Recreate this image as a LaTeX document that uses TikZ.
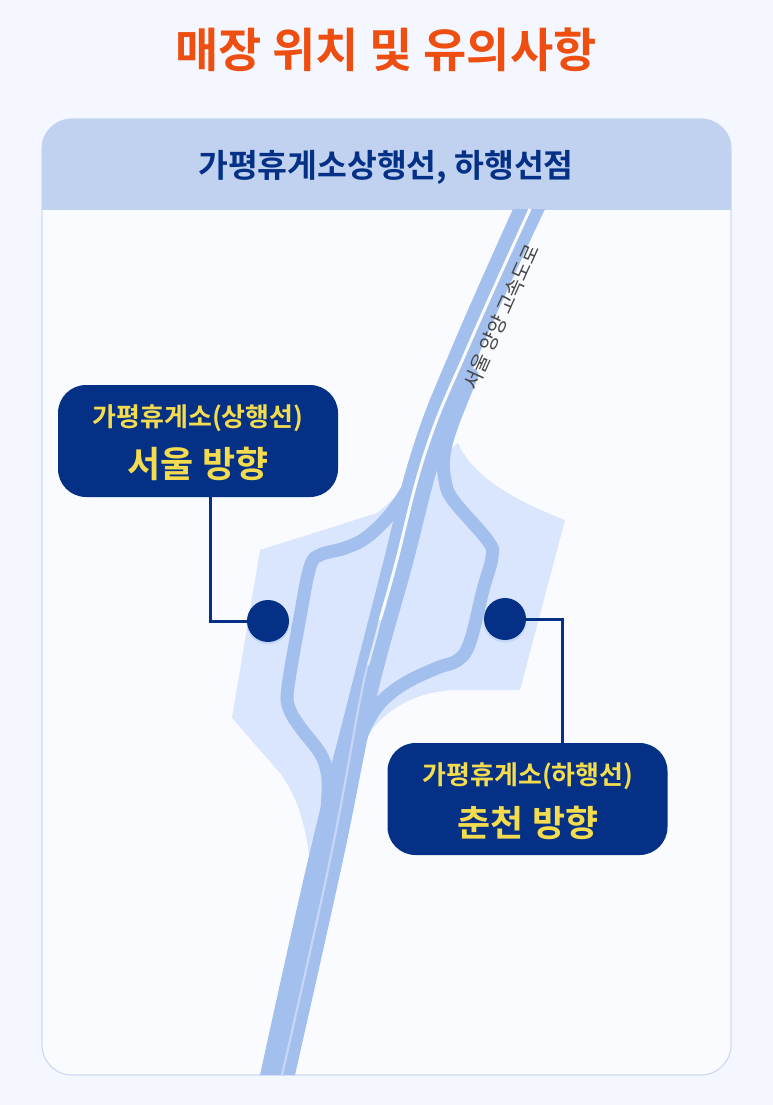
\documentclass[tikz,border=0pt]{standalone}
\usepackage{fontspec}
\setmainfont{Noto Sans CJK KR}[BoldFont={Noto Sans CJK KR Bold}]
\definecolor{pagebg}{HTML}{F4F7FF}
\definecolor{cardbg}{HTML}{FAFBFF}
\definecolor{cardline}{HTML}{CEDAF3}
\definecolor{headbg}{HTML}{C1D1F0}
\definecolor{navy}{HTML}{043186}
\definecolor{yel}{HTML}{F5DC4E}
\definecolor{orangeT}{HTML}{EE4E10}
\definecolor{road}{HTML}{A3BFEE}
\definecolor{lightarea}{HTML}{DAE6FD}
\definecolor{glow}{HTML}{C4D6F8}
\tikzset{
  x=1pt,y=-1pt,
  infobox/.style={fill=navy,rounded corners=28pt,minimum width=280pt,minimum height=112pt,inner sep=0pt},
  smalltxt/.style={text=yel,font=\fontsize{26}{28}\selectfont\bfseries,inner sep=0pt},
  bigtxt/.style={text=yel,font=\fontsize{36}{38}\selectfont\bfseries,inner sep=0pt},
  dot/.style={circle,fill=navy,minimum size=42pt,inner sep=0pt},
  leader/.style={draw=navy,line width=3pt},
  ramp/.style={draw=road,line width=13pt,line cap=round,line join=round},
}
\begin{document}
\begin{tikzpicture}
\useasboundingbox (0,0) rectangle (773,1105);
\fill[pagebg] (0,0) rectangle (773,1105);
\node[text=orangeT,font=\fontsize{47}{49}\selectfont\bfseries,inner sep=0pt] (title) at (386,50) {매장 위치 및 유의사항};
% card
\draw[cardline,fill=cardbg,line width=1.2pt,rounded corners=30pt] (42,119) rectangle (731,1075);
\begin{scope}
\clip (42,119) rectangle (731,209);
\fill[headbg,rounded corners=30pt] (41.5,119) rectangle (731.5,300);
\end{scope}
\node[text=navy,font=\fontsize{32.4}{34}\selectfont\bfseries,inner sep=0pt] (head) at (386,167) {가평휴게소상행선, 하행선점};
% service areas
\fill[lightarea] (260,550) -- (377,513) -- (458,443) .. controls (470,470) and (500,495) .. (565,520) -- (520,690) -- (453,690) .. controls (420,692) and (385,705) .. (363,743) -- (310,862) .. controls (306,830) and (300,800) .. (280,773) -- (232,718) -- cycle;
% ramps
\draw[ramp] plot[smooth,tension=.6] coordinates {(432,425) (415,475) (392,512) (367,537) (345,548) (320,555) (310,567) (300,617) (288,687) (289,708) (300,727) (320,753) (327,772) (328,793) (325,840)};
\draw[ramp] plot[smooth,tension=.6] coordinates {(472,375) (452,425) (444,455) (445,480) (453,500) (488,541) (492,557) (483,590) (470,642) (458,660) (437,668) (407,682) (383,700) (367,723) (352,760)};
% carriageway
\fill[road] plot[smooth,tension=.7] coordinates {(513,209) (452,347) (412,450) (382,567) (348,700) (308,860) (260,1075)}
 -- plot[smooth,tension=.7] coordinates {(295,1075) (343,860) (376,700) (412,567) (443,450) (482,347) (545,209)} -- cycle;
% median
\draw[cardbg,line width=3pt] plot[smooth,tension=.7] coordinates {(530,209) (468,347) (426,450) (395,567) (380,620)};
\draw[cardbg,line width=2.4pt,opacity=.7] plot[smooth,tension=.7] coordinates {(380,620) (375,640) (368,665)};
\draw[cardbg,line width=2.2pt,opacity=.4] plot[smooth,tension=.7] coordinates {(368,665) (360,700) (330,860) (282,1075)};
% road name
\node[rotate=66,text=black!72,font=\fontsize{20}{22}\selectfont,inner sep=0pt] (roadname) at (501,317) {서울 양양 고속도로};
% dots
\fill[glow] (268,623) circle (21.5);
\fill[glow] (505,621) circle (21.5);
\node[dot] (dotL) at (268,621) {};
\node[dot] (dotR) at (505,619) {};
% boxes
\node[infobox] (boxL) at (198,441) {};
\node[infobox] (boxR) at (527.5,799) {};
\coordinate (kneeL) at (210,621);
\coordinate (kneeR) at (562,619);
\draw[leader] (boxL.south -| kneeL) -- (kneeL) -- (dotL);
\draw[leader] (dotR) -- (kneeR) -- (kneeR |- boxR.north);
\node[smalltxt] (l1) at (198,418) {가평휴게소(상행선)};
\node[bigtxt] (l2) at (198,464) {서울 방향};
\node[smalltxt] (r1) at (528,776) {가평휴게소(하행선)};
\node[bigtxt] (r2) at (528,823) {춘천 방향};
\end{tikzpicture}
\end{document}
